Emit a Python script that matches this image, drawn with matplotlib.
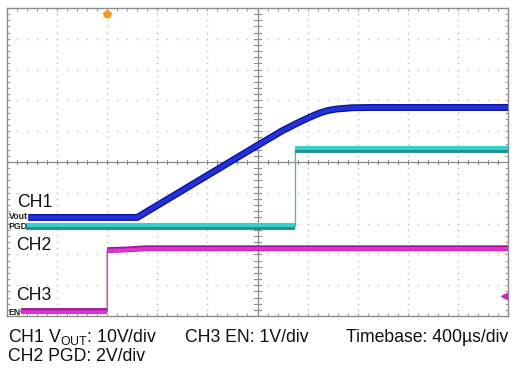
import numpy as np
import matplotlib
matplotlib.use("Agg")
import matplotlib.pyplot as plt

plt.rcParams['font.family'] = ['Liberation Sans', 'DejaVu Sans']
plt.rcParams['mathtext.fontset'] = 'custom'
plt.rcParams['mathtext.rm'] = 'Liberation Sans'

# ---- scope settings ----
timebase_us = 400            # us per division
n_xdiv, n_ydiv = 10, 10
ch1_scale, ch1_offset = 10.0, 3.2    # V/div, ground position (div)
ch2_scale, ch2_offset = 2.0, 2.93
ch3_scale, ch3_offset = 1.0, 0.15

# ---- CH1 Vout (V) ----
ch1_t = [170, 1040, 2000, 2200, 2336, 2420, 2496, 2560, 2632, 2750, 2900, 4000]
ch1_v = [0.0, 0.0, 23.4, 28.2, 31.0, 32.6, 33.9, 34.7, 35.2, 35.6, 35.7, 35.7]

# ---- CH2 PGD (V) ----
ch2_t = [155, 2300, 2300, 4000]
ch2_v = [0.0, 0.0, 5.0, 5.0]

# ---- CH3 EN (V) ----
ch3_t = [110, 800, 800, 950, 1100, 4000]
ch3_v = [0.0, 0.0, 1.99, 2.01, 2.05, 2.05]
ch3_trig_level = 0.5

trigger_t = 800

fig = plt.figure(figsize=(5.17, 3.75), dpi=100)
ax = fig.add_axes([7/517, (375-316)/375, 501/517, 308/375])
xmax = n_xdiv * timebase_us
ax.set_xlim(0, xmax)
ax.set_ylim(0, n_ydiv)

def to_div(v, scale, off):
    return np.asarray(v) / scale + off

grid_c = '#b4b4b4'
for i in range(1, n_xdiv):
    if i == n_xdiv // 2:
        continue
    ys = np.arange(0, n_ydiv * 5 + 1) / 5
    ax.plot(np.full_like(ys, i * timebase_us), ys, ls='none', marker='s', ms=0.9, color=grid_c, mew=0)
for j in range(1, n_ydiv):
    if j == n_ydiv // 2:
        continue
    xs = np.arange(0, n_xdiv * 5 + 1) * timebase_us / 5
    ax.plot(xs, np.full_like(xs, j, dtype=float), ls='none', marker='s', ms=0.9, color=grid_c, mew=0)
ax.axvline(xmax / 2, color='#8c8c8c', lw=0.9)
ax.axhline(n_ydiv / 2, color='#8c8c8c', lw=0.9)
for k in range(n_xdiv * 5 + 1):
    x = k * timebase_us / 5
    ax.plot([x, x], [n_ydiv / 2 - 0.08, n_ydiv / 2 + 0.08], color='#8c8c8c', lw=0.8)
for k in range(n_ydiv * 5 + 1):
    y = k / 5
    ax.plot([xmax / 2 - 28, xmax / 2 + 28], [y, y], color='#8c8c8c', lw=0.8)

for s in ax.spines.values():
    s.set_color('#8c8c8c')
    s.set_linewidth(1.0)
ax.set_xticks(np.arange(0, xmax + 1, timebase_us / 5))
ax.set_yticks(np.arange(0, n_ydiv + 0.01, 0.2))
ax.tick_params(which='both', direction='in', length=2.5, color='#a0a0a0',
               top=True, right=True, labelbottom=False, labelleft=False)

# ---- traces ----
t2 = np.array(ch2_t); y2 = to_div(ch2_v, ch2_scale, ch2_offset)
ax.plot(t2, y2, color='#3cbcbc', lw=0.9, zorder=5)
for a, b in ((0, 2), (2, 4)):
    ax.plot(t2[a:b], y2[a:b] - 0.035, color='#1f8f8f', lw=4.2, solid_capstyle='butt', zorder=5)
    ax.plot(t2[a:b], y2[a:b] + 0.02, color='#35d0d0', lw=3.0, solid_capstyle='butt', zorder=6)

t1 = np.array(ch1_t); y1 = to_div(ch1_v, ch1_scale, ch1_offset)
ax.plot(t1, y1, color='#0a14a0', lw=5.0, solid_capstyle='butt', solid_joinstyle='round', zorder=7)
ax.plot(t1, y1, color='#2430d8', lw=3.0, solid_capstyle='butt', solid_joinstyle='round', zorder=8)

t3 = np.array(ch3_t); y3 = to_div(ch3_v, ch3_scale, ch3_offset)
ax.plot(t3, y3, color='#b030b0', lw=0.9, zorder=5)
for a, b in ((0, 2), (2, len(t3))):
    ax.plot(t3[a:b], y3[a:b], color='#a01898', lw=4.2, solid_capstyle='butt', zorder=5)
    ax.plot(t3[a:b], y3[a:b] - 0.02, color='#e030d8', lw=2.6, solid_capstyle='butt', zorder=6)

ax.plot([trigger_t], [n_ydiv - 0.2], marker='p', ms=6, color='#f59a1a', mec='#f59a1a', zorder=9, clip_on=False)
ax.plot([xmax - 30], [to_div(ch3_trig_level, ch3_scale, ch3_offset)], marker='<', ms=4,
        color='#d020c8', zorder=9, clip_on=False)

small = dict(fontsize=6.3, fontweight='bold', color='#202020', va='center', ha='left', zorder=10)
ax.text(12, to_div(0, ch1_scale, ch1_offset) + 0.03, 'Vout', **small)
ax.text(12, to_div(0, ch2_scale, ch2_offset) - 0.04, 'PGD', **small)
ax.text(10, to_div(0, ch3_scale, ch3_offset) - 0.05, 'EN', **small)

fs = 12.7
big = dict(fontsize=fs, color='#101010', ha='left', va='baseline')
fig.text(17/517, 1 - 207/375, 'CH1', **big)
fig.text(16/517, 1 - 250/375, 'CH2', **big)
fig.text(16/517, 1 - 300/375, 'CH3', **big)

fig.text(8/517, 1 - 342/375, r'CH1 V$_{\mathregular{OUT}}$: 10V/div', **big)
fig.text(185/517, 1 - 342/375, 'CH3 EN: 1V/div', **big)
fig.text(508/517, 1 - 342/375, 'Timebase: 400µs/div', fontsize=fs, color='#101010', ha='right', va='baseline')
fig.text(8/517, 1 - 361/375, 'CH2 PGD: 2V/div', **big)

fig.savefig('out.png', dpi=100)
